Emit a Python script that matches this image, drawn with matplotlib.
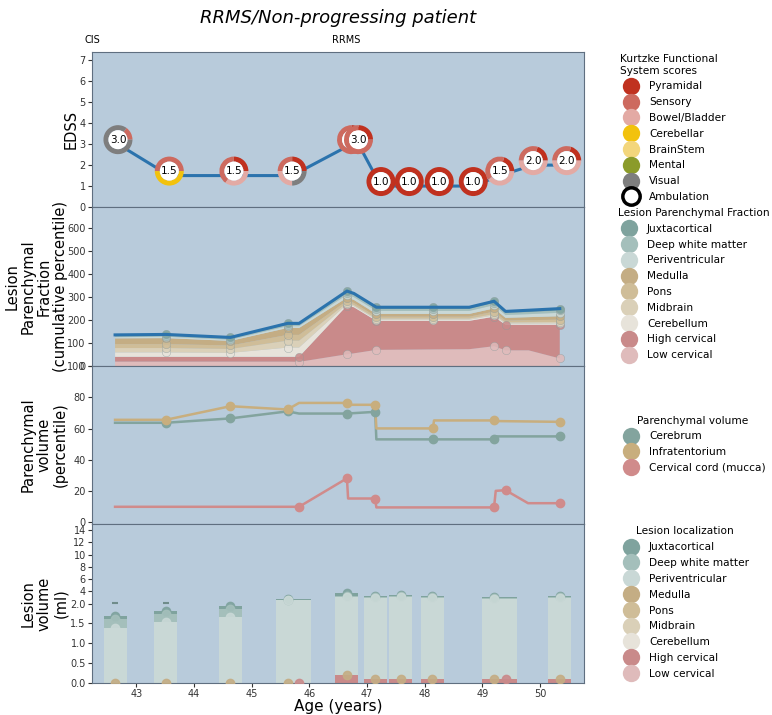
import numpy as np
import matplotlib
matplotlib.use("Agg")
import matplotlib.pyplot as plt
import matplotlib.transforms as mtransforms
from matplotlib.patches import Wedge, Circle
from matplotlib.lines import Line2D

# ---------------- data ----------------
fs_names = ["Pyramidal", "Sensory", "Bowel/Bladder", "Cerebellar", "BrainStem", "Mental", "Visual"]
fs_colors = ["#c0311f", "#cd6a5f", "#e3aaa4", "#f2c20d", "#f3d67c", "#8b9b2a", "#7e7e7e"]

lesion_names = ["Juxtacortical", "Deep white matter", "Periventricular", "Medulla", "Pons",
                "Midbrain", "Cerebellum", "High cervical", "Low cervical"]
lesion_colors = ["#7fa39e", "#a4bfbb", "#c9d8d6", "#c4ad84", "#cfbd98", "#dad0b8", "#e7e3da",
                 "#c98a8a", "#dfbbbb"]

pv_names = ["Cerebrum", "Infratentorium", "Cervical cord (mucca)"]
pv_colors = ["#83a49e", "#c8ae7e", "#d08b8b"]

# EDSS visits
edss_age = [42.68, 43.57, 44.69, 45.70, 46.73, 46.85, 47.24, 47.73, 48.25, 48.84, 49.30, 49.88, 50.46]
edss = [3.0, 1.5, 1.5, 1.5, 3.0, 3.0, 1.0, 1.0, 1.0, 1.0, 1.5, 2.0, 2.0]
# share of each functional system in the ring (same order as fs_names)
fs_share = [
    [0, .15, 0, 0, 0, 0, .85],
    [0, .50, 0, .50, 0, 0, 0],
    [.25, .40, .35, 0, 0, 0, 0],
    [.25, .25, .25, 0, 0, 0, .25],
    [.25, .75, 0, 0, 0, 0, 0],
    [.25, .75, 0, 0, 0, 0, 0],
    [1, 0, 0, 0, 0, 0, 0],
    [1, 0, 0, 0, 0, 0, 0],
    [1, 0, 0, 0, 0, 0, 0],
    [1, 0, 0, 0, 0, 0, 0],
    [.20, .40, .40, 0, 0, 0, 0],
    [.20, .30, .50, 0, 0, 0, 0],
    [.20, .30, .50, 0, 0, 0, 0],
]

# lesion parenchymal fraction (percentile, stacked)
lpf_age = [42.63, 43.51, 44.63, 45.62, 45.82, 46.65, 46.77, 47.16, 48.14, 48.77, 49.20, 49.40, 49.80, 50.34]
lpf_low_cerv = [19, 19, 19, 19, 18, 51, 55, 70, 72, 73, 86, 68, 68, 33]
lpf_high_cerv = [21, 21, 21, 21, 22, 211, 200, 126, 124, 123, 128, 111, 111, 146]
lpf_cerebellum = [19, 19, 17, 40, 40, 6, 5, 5, 5, 5, 6, 5, 5, 6]
lpf_midbrain = [19, 19, 17, 30, 30, 6, 5, 5, 5, 5, 6, 5, 6, 6]
lpf_pons = [17, 17, 15, 25, 25, 9, 9, 8, 8, 8, 10, 8, 9, 10]
lpf_medulla = [25, 26, 20, 30, 30, 13, 13, 12, 12, 12, 14, 12, 13, 15]
lpf_periv = [5, 6, 5, 8, 8, 13, 12, 13, 13, 13, 14, 12, 13, 15]
lpf_deep = [5, 5, 5, 6, 6, 9, 9, 9, 9, 9, 10, 9, 9, 10]
lpf_juxta = [5, 5, 5, 6, 6, 7, 7, 7, 7, 7, 7, 7, 8, 8]
brain_mri = [43.51, 44.63, 45.62, 46.65, 47.16, 48.14, 49.20, 50.34]
cerv_mri = [45.82, 46.65, 47.16, 49.20, 49.40, 50.34]

# parenchymal volume (percentile)
cerebrum_age = [42.63, 43.51, 44.63, 45.62, 45.82, 46.65, 47.14, 47.16, 48.14, 49.20, 49.24, 50.34]
cerebrum = [63.7, 63.7, 66.5, 71.0, 69.6, 69.6, 70.7, 53.1, 53.1, 53.1, 55.0, 55.0]
infra_age = [42.63, 43.51, 44.63, 45.62, 45.82, 46.65, 46.67, 47.14, 47.16, 48.14, 48.16, 49.20, 49.23, 50.34]
infra = [65.6, 65.6, 74.3, 72.2, 76.4, 76.4, 75.2, 75.2, 60.1, 60.1, 65.2, 65.2, 64.8, 64.3]
cord_age = [42.63, 45.82, 46.65, 46.67, 47.14, 47.16, 49.20, 49.23, 49.40, 49.79, 50.34]
cord = [10.0, 10.0, 28.2, 15.3, 15.3, 9.6, 9.6, 20.2, 20.6, 12.3, 12.3]
pv_brain_dots = [43.51, 44.63, 45.62, 46.65, 47.14, 48.14, 49.20, 50.34]
pv_cord_dots = [45.82, 46.65, 47.14, 49.20, 49.40, 50.34]

# lesion volume (ml) per MRI visit
lv_brain_age = [42.63, 43.51, 44.63, 45.62, 46.65, 47.14, 47.58, 48.13, 49.20, 50.34]
lv_cerv_age = [None, None, None, 45.82, 46.65, 47.14, 47.58, 48.13, 49.40, 50.34]
lv_low_cerv = [0, 0, 0, 0, 0, 0, 0, 0, 0, 0]
lv_high_cerv = [0, 0, 0, 0, 0.19, 0.09, 0.09, 0.09, 0.09, 0.09]
lv_cerebellum = [0, 0, 0, 0, 0, 0, 0, 0, 0, 0]
lv_midbrain = [0, 0, 0, 0, 0, 0, 0, 0, 0, 0]
lv_pons = [0, 0, 0, 0, 0, 0, 0, 0, 0, 0]
lv_medulla = [0, 0, 0, 0, 0, 0, 0, 0, 0, 0]
lv_periv = [1.38, 1.53, 1.67, 2.50, 2.90, 2.84, 3.00, 2.89, 2.68, 2.89]
lv_deep = [0.23, 0.20, 0.19, 0.06, 0.15, 0.12, 0.10, 0.10, 0.10, 0.10]
lv_juxta = [0.08, 0.09, 0.08, 0.10, 0.40, 0.25, 0.22, 0.22, 0.21, 0.22]
# small marks seen above the first two bars
lv_mark_age = [42.63, 43.51]
lv_mark = [2.03, 2.03]

bg = "#b8cbdb"
spine_c = "#5f6f80"

# ---------------- figure ----------------
W, H = 772, 715
fig = plt.figure(figsize=(W / 100, H / 100), dpi=100)
left, right = 92, 584
edges = [52, 207, 366, 524, 683]
axes = []
for i in range(4):
    ax = fig.add_axes([left / W, 1 - edges[i + 1] / H, (right - left) / W, (edges[i + 1] - edges[i]) / H])
    ax.set_facecolor(bg)
    for s in ax.spines.values():
        s.set_color(spine_c)
    ax.set_xlim(42.23, 50.76)
    ax.tick_params(labelsize=7, colors="#333333", length=3, pad=1.5)
    if i < 3:
        ax.tick_params(axis="x", bottom=False, labelbottom=False)
    axes.append(ax)
ax1, ax2, ax3, ax4 = axes

fig.text(338 / W, 1 - 18 / H, "RRMS/Non-progressing patient", ha="center", va="center",
         fontsize=13, style="italic")

lab_kw = dict(fontsize=10.5, linespacing=1.08)

# ---- panel 1: EDSS with functional system rings ----
ax1.plot(edss_age, edss, color="#2b73ad", lw=2.2, zorder=2)
ax1.set_ylim(0, 7.4)
ax1.set_yticks(range(8))
ax1.set_ylabel("EDSS", **lab_kw)
ax1.yaxis.set_label_coords(-0.028, 0.5)
ax1.text(42.23, 7.75, "CIS", ha="center", va="bottom", fontsize=7)
ax1.text(46.63, 7.75, "RRMS", ha="center", va="bottom", fontsize=7)

r_out, ring, lift = 0.145, 0.05, 0.045
for n, (a, v, share) in enumerate(zip(edss_age, edss, fs_share)):
    z = 3 + n * 0.01
    tr = fig.dpi_scale_trans + mtransforms.ScaledTranslation(a, v, ax1.transData)
    start = 0.0
    for f, c in zip(share, fs_colors):
        if f > 0:
            ax1.add_patch(Wedge((0, lift), r_out, start, start + f * 360, width=ring,
                                facecolor=c, edgecolor="none", transform=tr, zorder=z))
            start += f * 360
    ax1.add_patch(Circle((0, lift), r_out - ring, facecolor="white", edgecolor="none",
                         transform=tr, zorder=z))
    ax1.text(0, lift, f"{v:.1f}", transform=tr, ha="center", va="center", fontsize=7.5,
             zorder=z + 0.005)

# ---- panel 2: lesion parenchymal fraction ----
lpf_layers = [lpf_low_cerv, lpf_high_cerv, lpf_cerebellum, lpf_midbrain, lpf_pons,
              lpf_medulla, lpf_periv, lpf_deep, lpf_juxta]
lpf_cols = lesion_colors[::-1]
ax2.stackplot(lpf_age, np.array(lpf_layers), colors=lpf_cols, zorder=2)
tops = np.cumsum(np.array(lpf_layers), axis=0)
ax2.plot(lpf_age, tops[-1], color="#2b73ad", lw=2.2, zorder=4)
ages = np.array(lpf_age)
for k in range(len(lpf_layers)):
    sel = np.isin(ages, cerv_mri if k < 2 else brain_mri)
    ax2.plot(ages[sel], tops[k][sel], "o", ms=6, color=lpf_cols[k], alpha=0.85,
             mec="#8a9a9a", mew=0.3, zorder=3)
ax2.set_ylim(0, 690)
ax2.set_yticks(range(0, 700, 100))
ax2.set_ylabel("Lesion\nParenchymal\nFraction\n(cumulative percentile)", **lab_kw)
ax2.yaxis.set_label_coords(-0.049, 0.5)

# ---- panel 3: parenchymal volume ----
for a, v, dots, c in [(cerebrum_age, cerebrum, pv_brain_dots, pv_colors[0]),
                      (infra_age, infra, pv_brain_dots, pv_colors[1]),
                      (cord_age, cord, pv_cord_dots, pv_colors[2])]:
    ax3.plot(a, v, color=c, lw=1.8, zorder=2)
    da = [x for x in a if x in dots]
    dv = [y for x, y in zip(a, v) if x in dots]
    ax3.plot(da, dv, "o", ms=6, color=c, zorder=3)
ax3.set_ylim(-1, 100)
ax3.set_yticks(range(0, 101, 20))
ax3.set_ylabel("Parenchymal\nvolume\n(percentile)", **lab_kw)
ax3.yaxis.set_label_coords(-0.049, 0.5)

# ---- panel 4: lesion volume (compressed above 2 ml) ----
k_up = 2 / 13


def fwd(y):
    y = np.asarray(y, float)
    return np.where(y <= 2, y, 2 + (y - 2) * k_up)


def inv(y):
    y = np.asarray(y, float)
    return np.where(y <= 2, y, 2 + (y - 2) / k_up)


ax4.set_yscale("function", functions=(fwd, inv))
ax4.set_ylim(0, 15)
lv_layers = [lv_low_cerv, lv_high_cerv, lv_cerebellum, lv_midbrain, lv_pons, lv_medulla,
             lv_periv, lv_deep, lv_juxta]
lv_tops = np.cumsum(np.array(lv_layers), axis=0)
for j, (ab, ac) in enumerate(zip(lv_brain_age, lv_cerv_age)):
    lo = min(ab, ac if ac else ab) - 0.2
    hi = max(ab, ac if ac else ab) + 0.2
    base = 0.0
    for k in range(len(lv_layers)):
        h = lv_layers[k][j]
        if h > 0:
            ax4.bar(lo, h, width=hi - lo, bottom=base, align="edge", color=lpf_cols[k],
                    linewidth=0, zorder=2)
        base += h
    for k in [8, 7, 6, 5]:
        ax4.plot(ab, lv_tops[k][j], "o", ms=6, color=lpf_cols[k], alpha=0.9, zorder=3)
    if ac and ac != ab:
        ax4.plot(ac, lv_tops[1][j], "o", ms=6, color=lpf_cols[1], alpha=0.9, zorder=3)
ax4.plot(lv_mark_age, lv_mark, ls="", marker="_", ms=4, mew=1.5, color="#6f8c8a", zorder=3)
ax4.set_yticks([0, 0.5, 1, 1.5, 2, 4, 6, 8, 10, 12, 14])
ax4.set_yticklabels(["0.0", "0.5", "1.0", "1.5", "2.0", "4", "6", "8", "10", "12", "14"])
ax4.set_xticks(range(43, 51))
ax4.set_ylabel("Lesion\nvolume\n(ml)", **lab_kw)
ax4.yaxis.set_label_coords(-0.049, 0.5)
ax4.set_xlabel("Age (years)", fontsize=11, labelpad=0)

# ---------------- legends ----------------
def dot(c, ec=None, mew=0):
    return Line2D([], [], ls="", marker="o", ms=12.5, markerfacecolor=c,
                  markeredgecolor=ec or c, markeredgewidth=mew)


leg_kw = dict(loc="upper left", frameon=False, fontsize=7.6, title_fontsize=7.6,
              borderpad=0, borderaxespad=0, handlelength=2.0, handletextpad=0.75,
              labelspacing=0.55)

fs_handles = [dot(c) for c in fs_colors] + [dot("white", "black", 2.5)]
fig.legend(fs_handles, fs_names + ["Ambulation"], title="Kurtzke Functional\nSystem scores",
           bbox_to_anchor=(620 / W, 1 - 54 / H), alignment="left", **leg_kw)
fig.legend([dot(c) for c in lesion_colors], lesion_names, title="Lesion Parenchymal Fraction",
           bbox_to_anchor=(618 / W, 1 - 208 / H), alignment="left", **leg_kw)
fig.legend([dot(c) for c in pv_colors], pv_names, title="Parenchymal volume",
           bbox_to_anchor=(620 / W, 1 - 415.5 / H), **leg_kw)
fig.legend([dot(c) for c in lesion_colors], lesion_names, title="Lesion localization",
           bbox_to_anchor=(620 / W, 1 - 526.5 / H), **leg_kw)

fig.savefig("out.png", dpi=100)
